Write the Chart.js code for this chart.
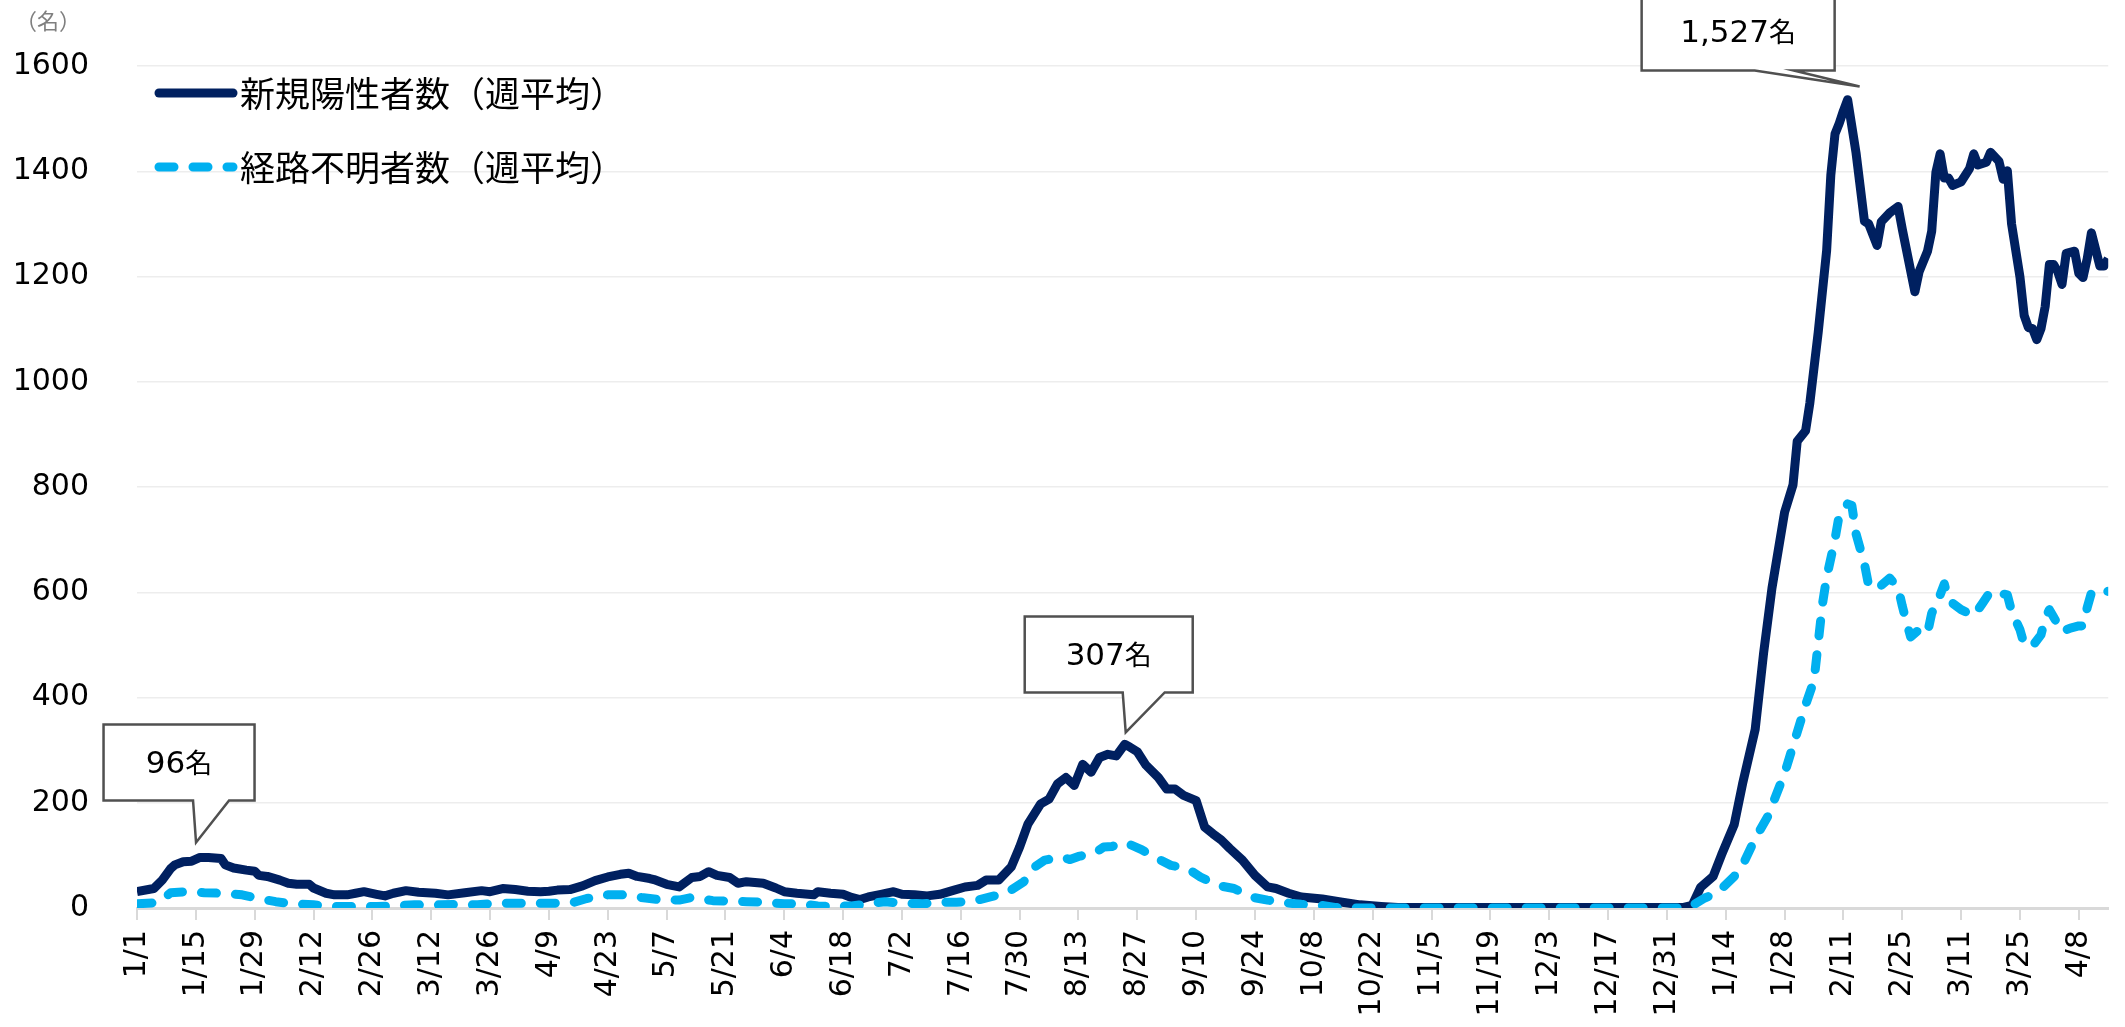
<!DOCTYPE html>
<html lang="ja">
<head>
<meta charset="utf-8">
<title>新規陽性者数と経路不明者数（週平均）</title>
<script src="https://cdn.jsdelivr.net/npm/chart.js@4.4.1/dist/chart.umd.min.js"></script>
<style>
  html, body { margin: 0; padding: 0; background: #fff; }
  #wrap { width: 2125px; height: 1027px; position: relative; }
</style>
</head>
<body>
<div id="wrap"><canvas id="chart"></canvas></div>
<script>
// x軸の目盛（2週間ごと、1/1からの日数 = index * 14）
const tickLabels = ['1/1','1/15','1/29','2/12','2/26','3/12','3/26','4/9','4/23','5/7','5/21','6/4','6/18','7/2','7/16','7/30','8/13','8/27','9/10','9/24','10/8','10/22','11/5','11/19','12/3','12/17','12/31','1/14','1/28','2/11','2/25','3/11','3/25','4/8'];
const lastDay = 469;

const seriesNames = ['新規陽性者数（週平均）', '経路不明者数（週平均）'];

// [1/1からの日数, 人数] 画像から読み取った値
const newCases = [
  [0,31],[4,37],[6,53],[8,75],[9,82],[11,88],[13,89],[15,96],[17,96],[20,94],[21,82],[23,76],[26,72],[28,70],[29,62],[31,60],
  [34,53],[36,47],[38,45],[41,45],[42,38],[45,28],[47,25],[50,25],[52,28],[54,31],[57,26],[59,23],[61,28],[64,33],[67,30],[71,28],
  [74,25],[78,29],[82,33],[84,31],[87,37],[90,35],[93,32],[96,31],[98,32],[100,34],[103,35],[106,42],[109,52],[112,59],[115,64],[117,66],
  [119,60],[122,56],[123,54],[126,45],[129,40],[132,58],[134,60],[136,69],[138,62],[141,58],[143,47],[145,50],[149,47],[152,38],[154,31],
  [157,28],[161,25],[162,31],[165,28],[168,26],[170,20],[172,16],[174,21],[177,26],[180,31],[182,26],[185,25],[188,23],[191,26],[194,33],
  [197,40],[200,43],[202,53],[205,53],[208,78],[210,116],[212,160],[215,198],[217,207],[219,236],[221,248],[223,233],[225,273],[227,258],
  [229,286],[231,292],[233,289],[235,311],[236,307],[238,297],[240,272],[243,248],[245,226],[247,226],[249,214],[252,204],[254,154],
  [256,141],[258,129],[260,113],[263,91],[266,62],[269,40],[271,37],[274,28],[277,21],[282,17],[286,12],[291,6],[296,3],[300,1],
  [310,1],[325,1],[340,1],[355,1],[368,1],[370,5],[372,39],[375,60],[377,101],[380,158],[382,236],[385,339],[387,484],[389,608],
  [392,752],[394,804],[395,887],[397,907],[398,959],[400,1094],[402,1249],[403,1393],[404,1471],[405,1491],[406,1515],[407,1536],
  [409,1435],[411,1305],[412,1300],[414,1259],[415,1304],[417,1321],[419,1333],[420,1290],[423,1171],[424,1209],[426,1248],[427,1286],
  [428,1398],[429,1433],[430,1387],[431,1387],[432,1373],[434,1380],[436,1405],[437,1433],[438,1412],[440,1417],[441,1436],[443,1419],
  [444,1385],[445,1401],[446,1300],[448,1199],[449,1126],[450,1103],[451,1101],[452,1080],[453,1101],[454,1143],[455,1223],[456,1223],
  [457,1209],[458,1185],[459,1244],[461,1248],[462,1206],[463,1198],[464,1234],[465,1283],[467,1220],[468,1220],[469,1234]
];

const unknownRoute = [
  [0,8],[5,10],[8,29],[12,31],[16,29],[20,28],[25,25],[29,18],[33,12],[37,8],[42,6],[47,3],[52,3],[57,3],[61,4],[66,6],[72,6],
  [77,7],[81,6],[85,9],[89,9],[94,9],[99,9],[104,11],[107,18],[112,25],[116,25],[120,20],[124,16],[129,15],[132,20],[137,14],
  [141,13],[145,12],[149,11],[154,8],[158,8],[162,4],[166,3],[170,4],[174,8],[178,12],[182,9],[187,8],[191,11],[195,11],[199,13],
  [203,21],[207,29],[211,50],[213,75],[216,91],[220,97],[222,92],[224,98],[228,105],[230,116],[232,117],[235,125],[239,111],[242,97],
  [246,81],[250,75],[253,59],[257,43],[261,37],[265,21],[269,15],[273,10],[277,7],[281,6],[285,1],[289,0],[310,0],[330,0],[350,0],
  [369,0],[373,19],[376,29],[380,60],[382,81],[385,132],[388,174],[390,215],[392,256],[394,308],[396,360],[397,386],[399,432],
  [400,504],[401,577],[402,628],[404,701],[405,747],[407,768],[408,765],[409,711],[411,654],[412,613],[414,606],[417,627],[419,609],
  [420,574],[421,543],[422,515],[424,529],[426,522],[427,560],[429,595],[430,616],[431,585],[434,567],[437,555],[439,578],[441,602],
  [445,595],[446,564],[448,529],[449,501],[451,498],[453,519],[454,550],[455,567],[456,553],[458,525],[460,532],[462,536],[463,536],
  [464,571],[465,599],[467,595],[469,602]
];

// 吹き出し（ピーク値）
const peakNotes = [
  { day: 15,  value: 96,   text: '96' },
  { day: 235, value: 307,  text: '307' },
  { day: 407, value: 1527, text: '1,527' }
];

const NAVY = '#002060';
const CYAN = '#00B0F0';
const JP_FONT = '"Noto Sans CJK JP", "DejaVu Sans", sans-serif';

Chart.defaults.font.family = '"DejaVu Sans", sans-serif';
Chart.defaults.color = '#000';

// 凡例と単位の描画
const legendPlugin = {
  id: 'customLegend',
  afterDraw(chart) {
    const ctx = chart.ctx;
    ctx.save();
    ctx.fillStyle = '#7f7f7f';
    ctx.font = '22px ' + JP_FONT;
    ctx.textAlign = 'center';
    ctx.textBaseline = 'middle';
    ctx.fillText('（名）', 48, 21);

    const rows = [93, 167];
    chart.data.datasets.forEach((ds, i) => {
      const y = rows[i];
      ctx.beginPath();
      ctx.lineWidth = 9;
      ctx.lineCap = 'round';
      ctx.strokeStyle = ds.borderColor;
      ctx.setLineDash(ds.borderDash || []);
      ctx.moveTo(159, y);
      ctx.lineTo(233, y);
      ctx.stroke();
      ctx.setLineDash([]);
      ctx.fillStyle = '#000';
      ctx.font = '35px ' + JP_FONT;
      ctx.textAlign = 'left';
      ctx.fillText(ds.label, 240, y + 1);
    });
    ctx.restore();
  }
};

// 吹き出しの描画
const calloutPlugin = {
  id: 'callouts',
  afterDatasetsDraw(chart) {
    const ctx = chart.ctx;
    const xs = chart.scales.x, ys = chart.scales.y;
    const shapes = [
      { tipDx: -4,  tipDy: -15, cx: -17,    w: 151, h: 76, gap: 42, base: [-3, 33] },
      { tipDx: 1,   tipDy: -14, cx: -17,    w: 168, h: 76, gap: 40, base: [-3, 39] },
      { tipDx: 12,  tipDy: -18, cx: -121.5, w: 193, h: 78, gap: 16, base: [-105, -66] }
    ];
    ctx.save();
    peakNotes.forEach((note, i) => {
      const s = shapes[i];
      const tx = xs.getPixelForValue(note.day) + s.tipDx;
      const ty = ys.getPixelForValue(note.value) + s.tipDy;
      const bottom = ty - s.gap;
      const top = bottom - s.h;
      const left = tx + s.cx - s.w / 2;
      const right = left + s.w;
      ctx.beginPath();
      ctx.moveTo(left, top);
      ctx.lineTo(right, top);
      ctx.lineTo(right, bottom);
      ctx.lineTo(tx + s.base[1], bottom);
      ctx.lineTo(tx, ty);
      ctx.lineTo(tx + s.base[0], bottom);
      ctx.lineTo(left, bottom);
      ctx.closePath();
      ctx.fillStyle = '#fff';
      ctx.fill();
      ctx.lineWidth = 2.5;
      ctx.strokeStyle = '#505050';
      ctx.lineJoin = 'miter';
      ctx.stroke();

      // 数値 + 「名」
      const numFont = '31px "DejaVu Sans", sans-serif';
      const unitFont = '27px ' + JP_FONT;
      ctx.font = numFont;
      const wNum = ctx.measureText(note.text).width;
      ctx.font = unitFont;
      const wUnit = ctx.measureText('名').width;
      const cx = (left + right) / 2;
      const cy = (top + bottom) / 2;
      let x0 = cx - (wNum + wUnit) / 2;
      ctx.fillStyle = '#000';
      ctx.textAlign = 'left';
      ctx.textBaseline = 'alphabetic';
      ctx.font = numFont;
      ctx.fillText(note.text, x0, cy + 11);
      ctx.font = unitFont;
      ctx.fillText('名', x0 + wNum, cy + 11);
    });
    ctx.restore();
  }
};

const toPoints = (pairs) => pairs.map(([d, v]) => ({ x: d, y: v }));

new Chart(document.getElementById('chart'), {
  type: 'line',
  data: {
    datasets: [
      {
        label: seriesNames[0],
        data: toPoints(newCases),
        borderColor: NAVY,
        backgroundColor: NAVY,
        borderWidth: 9,
        borderJoinStyle: 'round',
        pointRadius: 0,
        tension: 0,
        order: 1
      },
      {
        label: seriesNames[1],
        data: toPoints(unknownRoute),
        borderColor: CYAN,
        backgroundColor: CYAN,
        borderWidth: 9,
        borderDash: [15, 19],
        borderCapStyle: 'round',
        borderJoinStyle: 'round',
        pointRadius: 0,
        tension: 0,
        order: 0
      }
    ]
  },
  options: {
    responsive: true,
    maintainAspectRatio: false,
    animation: false,
    devicePixelRatio: 1,
    layout: { padding: { top: 60, right: 13, left: 0, bottom: 0 } },
    plugins: {
      legend: { display: false },
      tooltip: { enabled: false }
    },
    scales: {
      x: {
        type: 'linear',
        min: 0,
        max: lastDay,
        afterFit(scale) { scale.height = 119; },
        grid: {
          drawOnChartArea: false,
          drawTicks: true,
          tickLength: 12,
          color: '#D9D9D9',
          lineWidth: 2
        },
        border: { display: true, color: '#D9D9D9', width: 3 },
        ticks: {
          stepSize: 14,
          includeBounds: false,
          autoSkip: false,
          maxRotation: 90,
          minRotation: 90,
          padding: 10,
          font: { size: 30 },
          color: '#000',
          callback: (v) => (v % 14 === 0 && tickLabels[v / 14]) ? tickLabels[v / 14] : ''
        }
      },
      y: {
        min: 0,
        max: 1600,
        afterFit(scale) { scale.width = 137; },
        grid: {
          drawTicks: false,
          color: (c) => c.tick && c.tick.value === 0 ? 'rgba(0,0,0,0)' : '#EDEDED',
          lineWidth: 1.5
        },
        border: { display: false },
        ticks: {
          stepSize: 200,
          padding: 48,
          font: { size: 30 },
          color: '#000',
          callback: (v) => String(v)
        }
      }
    }
  },
  plugins: [legendPlugin, calloutPlugin]
});
</script>
</body>
</html>
